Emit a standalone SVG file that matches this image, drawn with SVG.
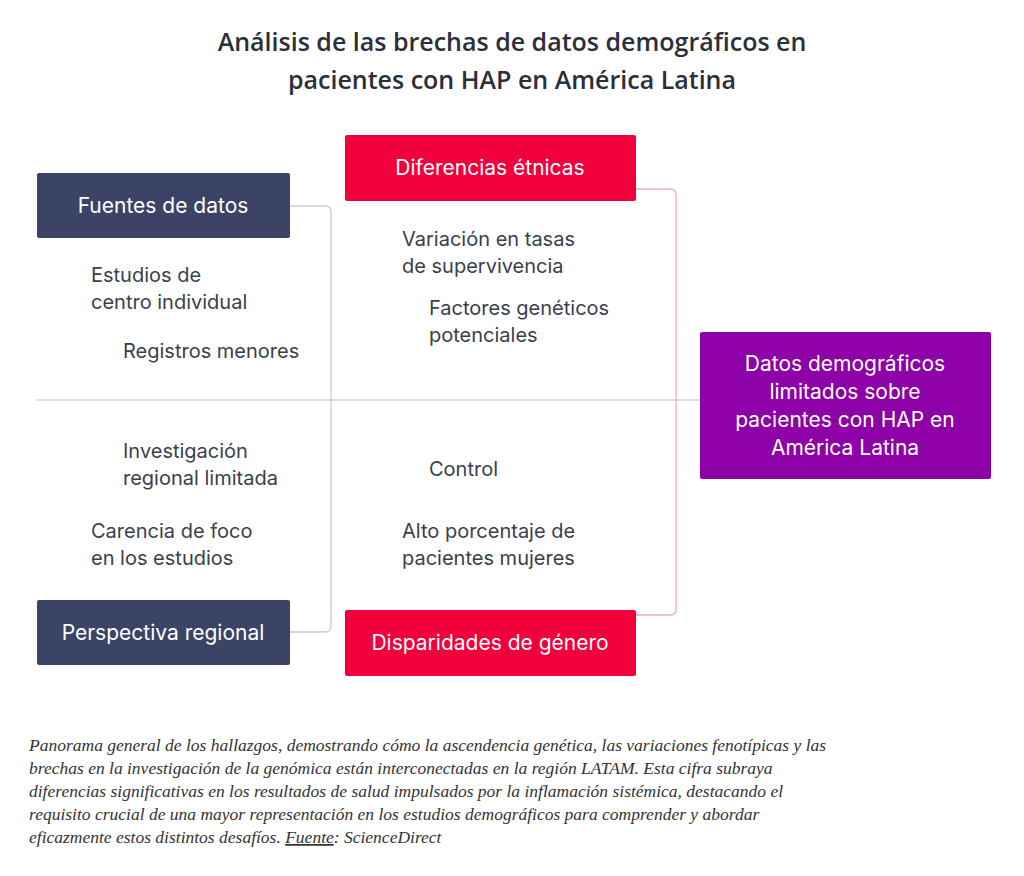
<svg xmlns="http://www.w3.org/2000/svg" width="1024" height="876" viewBox="0 0 1024 876">
<style>
.t{font-family:Inter,"Open Sans",sans-serif;font-size:20px;fill:#3a3f4d}
.w{font-family:Inter,"Open Sans",sans-serif;font-size:21px;fill:#fff}
.h{font-family:"Open Sans",Inter,sans-serif;font-size:25px;font-weight:600;fill:#2b2f3a;text-anchor:middle}
.c{font-family:"Liberation Serif",serif;font-style:italic;font-size:17.5px;fill:#333}
.c2{stroke:none}
</style>
<rect width="1024" height="876" fill="#fff"/>
<text class="h" x="512" y="51">Análisis de las brechas de datos demográficos en</text>
<text class="h" x="512" y="89">pacientes con HAP en América Latina</text>
<g id="connectors" fill="none">
<line x1="37" y1="400" x2="700" y2="400" stroke="#d9a8d9" stroke-width="1.2"/>
<path d="M290 206 H325 Q331 206 331 212 V626 Q331 632 325 632 H290" stroke="#c8cbd6" stroke-width="1.3"/>
<path d="M636 189 H670 Q676 189 676 195 V609 Q676 615 670 615 H636" stroke="#f7a9bc" stroke-width="1.3"/>
</g>
<g id="fuentes"><rect x="37" y="173" width="253" height="65" rx="2" fill="#3b4466"/><text class="w" x="163" y="213" text-anchor="middle">Fuentes de datos</text></g>
<g id="perspectiva"><rect x="37" y="600" width="253" height="65" rx="2" fill="#3b4466"/><text class="w" x="163" y="640" text-anchor="middle">Perspectiva regional</text></g>
<g id="etnicas"><rect x="345" y="135" width="291" height="66" rx="2" fill="#f2003c"/><text class="w" x="490" y="175" text-anchor="middle">Diferencias étnicas</text></g>
<g id="genero"><rect x="345" y="610" width="291" height="66" rx="2" fill="#f2003c"/><text class="w" x="490" y="650" text-anchor="middle">Disparidades de género</text></g>
<g id="central"><rect x="700" y="332" width="291" height="147" rx="2" fill="#8e00a8"/>
<text class="w" x="845" y="371" text-anchor="middle">Datos demográficos</text>
<text class="w" x="845" y="399" text-anchor="middle">limitados sobre</text>
<text class="w" x="845" y="427" text-anchor="middle">pacientes con HAP en</text>
<text class="w" x="845" y="455" text-anchor="middle">América Latina</text></g>
<g id="labels">
<text class="t" x="91" y="282">Estudios de</text><text class="t" x="91" y="309">centro individual</text>
<text class="t" x="123" y="358">Registros menores</text>
<text class="t" x="123" y="458">Investigación</text><text class="t" x="123" y="485">regional limitada</text>
<text class="t" x="91" y="538">Carencia de foco</text><text class="t" x="91" y="565">en los estudios</text>
<text class="t" x="402" y="246">Variación en tasas</text><text class="t" x="402" y="273">de supervivencia</text>
<text class="t" x="429" y="315">Factores genéticos</text><text class="t" x="429" y="342">potenciales</text>
<text class="t" x="429" y="476">Control</text>
<text class="t" x="402" y="538">Alto porcentaje de</text><text class="t" x="402" y="565">pacientes mujeres</text>
</g>
<g id="caption">
<text class="c" x="29" y="751">Panorama general de los hallazgos, demostrando cómo la ascendencia genética, las variaciones fenotípicas y las</text>
<text class="c" x="29" y="774">brechas en la investigación de la genómica están interconectadas en la región LATAM. Esta cifra subraya</text>
<text class="c" x="29" y="797">diferencias significativas en los resultados de salud impulsados por la inflamación sistémica, destacando el</text>
<text class="c" x="29" y="820">requisito crucial de una mayor representación en los estudios demográficos para comprender y abordar</text>
<text class="c" x="29" y="843">eficazmente estos distintos desafíos. <tspan text-decoration="underline">Fuente</tspan>: ScienceDirect</text>
</g>
</svg>
